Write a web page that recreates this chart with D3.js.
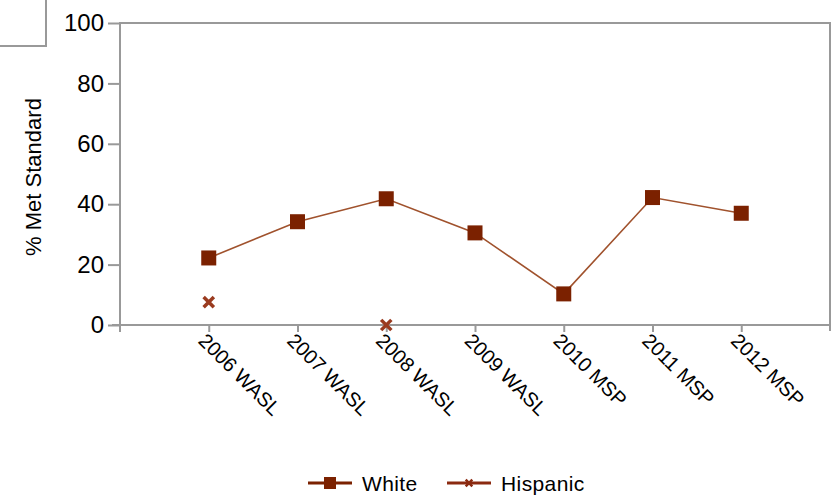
<!DOCTYPE html>
<html>
<head>
<meta charset="utf-8">
<title>% Met Standard</title>
<script src="https://d3js.org/d3.v7.min.js"></script>
<style>
    body {
        margin: 0;
        background: #fff;
        font-family: 'Liberation Sans', Arial, sans-serif;
    }
    .tickLabel { font-size: 24px; fill: #000; }
    .xLabel { font-size: 20px; fill: #000; }
    .legendText { font-size: 21px; fill: #000; letter-spacing: 0.4px; }
</style>
</head>
<body>
<svg id="chart" width="833" height="495"></svg>
<script>
    // data
    const tests = ["2006 WASL", "2007 WASL", "2008 WASL", "2009 WASL", "2010 MSP", "2011 MSP", "2012 MSP"];
    const white = [22.2, 34.2, 41.8, 30.5, 10.3, 42.2, 37.0];
    const hispanic = [7.6, null, 0, null, null, null, null];
    const yTicks = [0, 20, 40, 60, 80, 100];
    const seriesNames = ["White", "Hispanic"];

    const svg = d3.select("#chart");
    const margin = {top: 23, right: 2, bottom: 170, left: 120};
    const width = 833, height = 495;
    const plotRight = width - margin.right - 1;
    const plotBottom = height - margin.bottom;

    const markColor = "#7b2100";
    const lineColor = "#a0522d";
    const frameColor = "#999";

    const x = d3.scalePoint().domain(tests).range([margin.left, plotRight]).padding(1);
    const y = d3.scaleLinear().domain([0, 100]).range([plotBottom, margin.top]);

    // little box in the corner
    svg.append("rect").attr("x", -2).attr("y", -2).attr("width", 48).attr("height", 48)
        .attr("fill", "none").attr("stroke", frameColor).attr("stroke-width", 2);

    // frame
    svg.append("path")
        .attr("d", `M${margin.left},${plotBottom + 7}V${margin.top}H${plotRight}V${plotBottom + 6}`)
        .attr("fill", "none").attr("stroke", frameColor).attr("stroke-width", 2);

    // y axis
    const yAxis = svg.append("g").attr("transform", `translate(${margin.left},0)`)
        .call(d3.axisLeft(y).tickValues(yTicks).tickSize(12).tickPadding(4));
    yAxis.select(".domain").remove();
    yAxis.selectAll("line").attr("stroke", frameColor).attr("stroke-width", 2);
    yAxis.selectAll("text").attr("class", "tickLabel").attr("font-family", null).attr("font-size", null);

    // x axis
    const xAxis = svg.append("g").attr("transform", `translate(0,${plotBottom})`)
        .call(d3.axisBottom(x).tickSize(7).tickSizeOuter(0).tickFormat(""));
    xAxis.select(".domain").attr("d", `M${margin.left - 8},0H${plotRight}`).attr("stroke", frameColor).attr("stroke-width", 2);
    xAxis.selectAll("line").attr("stroke", frameColor).attr("stroke-width", 2);
    xAxis.selectAll(".tick").append("text")
        .attr("class", "xLabel")
        .attr("transform", "translate(-7,12) rotate(45)")
        .attr("text-anchor", "start")
        .attr("dy", "0.35em")
        .text(d => d);

    // y title
    svg.append("text")
        .attr("transform", `translate(41,${(margin.top + plotBottom) / 2 + 3}) rotate(-90)`)
        .attr("text-anchor", "middle")
        .style("font-size", "22px")
        .text("% Met Standard");

    // white series
    const line = d3.line()
        .defined(d => d.v != null)
        .x(d => x(d.t)).y(d => y(d.v));
    const whiteData = tests.map((t, i) => ({t: t, v: white[i]}));
    svg.append("path").datum(whiteData)
        .attr("d", line).attr("fill", "none")
        .attr("stroke", lineColor).attr("stroke-width", 1.6);
    const sq = 15;
    svg.selectAll("rect.white").data(whiteData.filter(d => d.v != null)).enter()
        .append("rect").attr("class", "white")
        .attr("x", d => x(d.t) - sq / 2).attr("y", d => y(d.v) - sq / 2)
        .attr("width", sq).attr("height", sq).attr("fill", markColor);

    // hispanic series
    const hispData = tests.map((t, i) => ({t: t, v: hispanic[i]}));
    svg.append("path").datum(hispData)
        .attr("d", line).attr("fill", "none")
        .attr("stroke", lineColor).attr("stroke-width", 1.6);
    const crossPath = d3.symbol().type(d3.symbolX).size(70);
    svg.selectAll("path.hisp").data(hispData.filter(d => d.v != null)).enter()
        .append("path").attr("class", "hisp")
        .attr("d", crossPath)
        .attr("transform", d => `translate(${x(d.t)},${y(d.v)})`)
        .attr("stroke", "#9a3b1f").attr("stroke-width", 3.5).attr("fill", "none");

    // legend
    const legend = svg.append("g").attr("transform", "translate(0,483)");
    const legendX = [308, 447];
    seriesNames.forEach((name, i) => {
        const lx = legendX[i];
        legend.append("line").attr("x1", lx).attr("x2", lx + 44).attr("y1", 0).attr("y2", 0)
            .attr("stroke", i === 0 ? markColor : "#8b2a10").attr("stroke-width", 3);
        if (i === 0) {
            legend.append("rect").attr("x", lx + 16).attr("y", -6).attr("width", 12).attr("height", 12).attr("fill", markColor);
        } else {
            legend.append("path").attr("d", d3.symbol().type(d3.symbolX).size(30))
                .attr("transform", `translate(${lx + 22},0)`)
                .attr("stroke", "#8b2a10").attr("stroke-width", 2.5);
        }
        legend.append("text").attr("class", "legendText")
            .attr("x", lx + 54).attr("y", 1).attr("dy", "0.35em").text(name);
    });
</script>
</body>
</html>
